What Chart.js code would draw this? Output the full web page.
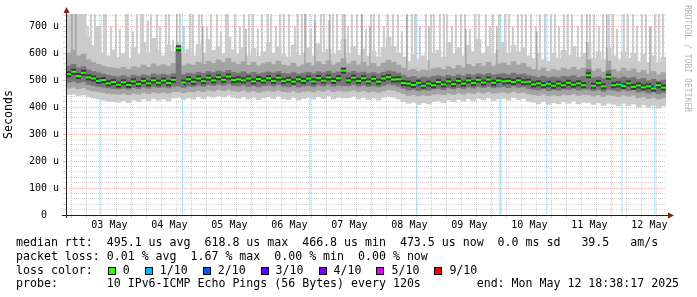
<!DOCTYPE html>
<html>
<head>
<meta charset="utf-8">
<title>smokeping</title>
<script src="https://cdn.jsdelivr.net/npm/chart.js@4.4.1/dist/chart.umd.min.js"></script>
<style>
  html, body { margin: 0; padding: 0; background: #fff; }
  #wrap { position: relative; width: 697px; height: 297px; overflow: hidden; font-family: 'DejaVu Sans Mono', monospace; }
  #chart { position: absolute; left: 0; top: 0; }
  .lg { position: absolute; left: 16px; font-size: 11.6px; line-height: 14px; white-space: pre; color: #000; }
  .box { display: inline-block; width: 6px; height: 6px; border: 1px solid #000; margin: 0 7px 0 15px; vertical-align: -1px; }
  .wm { position: absolute; left: 683px; top: 5px; writing-mode: vertical-rl; font-size: 8.1px; line-height: 9px; color: #b4b4b4; white-space: pre; }
</style>
</head>
<body>
<div id="wrap">
  <canvas id="chart" width="697" height="297"></canvas>
  <div class="wm">RRDTOOL / TOBI OETIKER</div>
  <div class="lg" style="top:235px">median rtt:  495.1 us avg  618.8 us max  466.8 us min  473.5 us now  0.0 ms sd   39.5   am/s</div>
  <div class="lg" style="top:249px">packet loss: 0.01 % avg  1.67 % max  0.00 % min  0.00 % now</div>
  <div class="lg" style="top:263px">loss color:<span class="box" style="background:#26ff00"></span>0<span class="box" style="background:#00b8ff"></span>1/10<span class="box" style="background:#0059ff"></span>2/10<span class="box" style="background:#5e00ff"></span>3/10<span class="box" style="background:#7e00ff"></span>4/10<span class="box" style="background:#dd00ff"></span>5/10<span class="box" style="background:#ff0000"></span>9/10</div>
  <div class="lg" style="top:276px">probe:       10 IPv6-ICMP Echo Pings (56 Bytes) every 120s        end: Mon May 12 18:38:17 2025</div>
</div>
<script>
// times are hours since 02 May 00:00, values in microseconds
const T0 = 18 + 38 / 60 + 17 / 3600;   // 02 May 18:38:17
const T1 = T0 + 240;                     // 12 May 18:38:17

// median rtt, one value per 2 h column
const med = [
  522, 531, 515, 527, 510, 506, 497, 500, 488, 493, 483, 492,
  482, 495, 486, 497, 488, 499, 490, 498, 489, 501, 618, 491,
  503, 494, 506, 496, 509, 499, 511, 501, 513, 500, 503, 499,
  506, 495, 504, 498, 507, 497, 509, 496, 501, 494, 503, 497,
  506, 495, 508, 498, 510, 497, 507, 535, 499, 509, 497, 507,
  495, 505, 494, 506, 511, 502, 503, 489, 487, 482, 490, 479,
  487, 481, 493, 484, 495, 485, 497, 487, 499, 489, 501, 491,
  502, 490, 499, 495, 497, 493, 499, 492, 494, 484, 488, 481,
  486, 479, 487, 481, 490, 483, 488, 481, 518, 479, 489, 477,
  512, 481, 484, 478, 488, 475, 480, 473, 477, 469, 481, 472
];

// smoke: outer (lightest), middle and inner bands
const lo1 = [
  446, 448, 442, 445, 438, 434, 430, 426, 422, 420, 418, 424,
  416, 426, 420, 430, 422, 432, 425, 430, 422, 434, 436, 428,
  434, 430, 438, 432, 440, 436, 442, 437, 444, 436, 432, 438,
  430, 436, 428, 434, 438, 432, 440, 430, 428, 436, 426, 432,
  436, 430, 438, 432, 442, 430, 436, 434, 434, 440, 430, 436,
  428, 434, 426, 436, 440, 436, 430, 420, 414, 418, 410, 416,
  412, 420, 424, 416, 426, 420, 428, 422, 430, 424, 432, 426,
  434, 424, 430, 432, 426, 436, 428, 432, 422, 418, 412, 420,
  410, 416, 412, 420, 414, 422, 412, 418, 416, 410, 416, 406,
  414, 410, 404, 414, 406, 412, 400, 408, 398, 406, 396, 404
];
const hi1 = [
  745, 745, 745, 745, 660, 628, 700, 600, 590, 612, 585, 598,
  580, 620, 595, 640, 600, 655, 610, 590, 630, 605, 640, 598,
  615, 590, 632, 600, 650, 610, 625, 598, 660, 612, 595, 620,
  590, 618, 588, 605, 640, 600, 625, 595, 585, 630, 592, 600,
  620, 590, 635, 602, 615, 595, 610, 650, 600, 625, 592, 615,
  590, 608, 586, 620, 660, 625, 600, 585, 570, 595, 575, 590,
  572, 600, 610, 585, 640, 598, 620, 590, 630, 605, 650, 600,
  625, 598, 612, 640, 600, 630, 605, 620, 590, 580, 598, 575,
  570, 600, 580, 610, 592, 625, 585, 600, 640, 580, 605, 575,
  620, 590, 575, 605, 580, 600, 570, 595, 566, 590, 565, 585
];
const lo2 = [
  470, 474, 468, 472, 464, 460, 456, 454, 451, 449, 447, 450,
  446, 452, 448, 454, 450, 456, 452, 455, 451, 457, 458, 453,
  458, 456, 461, 457, 463, 460, 465, 461, 466, 460, 458, 462,
  456, 460, 455, 459, 461, 458, 463, 457, 455, 460, 454, 458,
  460, 456, 462, 458, 464, 457, 461, 459, 459, 463, 457, 461,
  456, 459, 455, 460, 465, 462, 457, 450, 443, 446, 441, 445,
  442, 447, 449, 445, 451, 447, 452, 448, 454, 450, 456, 452,
  457, 451, 454, 456, 452, 458, 453, 455, 449, 446, 443, 448,
  441, 445, 442, 447, 445, 449, 443, 447, 446, 441, 445, 439,
  445, 443, 439, 445, 440, 444, 435, 439, 432, 436, 430, 434
];
const hi2 = [
  600, 612, 590, 596, 575, 565, 558, 552, 548, 545, 542, 548,
  540, 550, 546, 556, 548, 560, 552, 557, 550, 562, 625, 553,
  560, 555, 566, 558, 570, 562, 575, 566, 580, 565, 558, 568,
  555, 566, 553, 561, 566, 558, 570, 556, 552, 563, 550, 557,
  564, 553, 568, 558, 572, 556, 565, 580, 560, 570, 556, 566,
  552, 562, 550, 563, 574, 566, 556, 545, 535, 540, 532, 538,
  534, 542, 546, 539, 550, 542, 554, 546, 558, 550, 562, 552,
  566, 552, 560, 564, 554, 568, 556, 562, 548, 540, 536, 545,
  532, 540, 535, 545, 540, 548, 538, 545, 575, 534, 542, 530,
  570, 540, 532, 545, 534, 542, 528, 536, 522, 532, 520, 528
];
const lo3 = [
  492, 496, 490, 494, 484, 480, 476, 474, 471, 469, 467, 470,
  466, 472, 468, 474, 470, 476, 472, 475, 471, 477, 478, 473,
  478, 476, 481, 477, 483, 480, 485, 481, 486, 480, 478, 482,
  476, 480, 475, 479, 481, 478, 483, 477, 475, 480, 474, 478,
  480, 476, 482, 478, 484, 477, 481, 479, 479, 483, 477, 481,
  476, 479, 475, 480, 485, 482, 477, 470, 463, 466, 461, 465,
  462, 467, 469, 465, 471, 467, 472, 468, 474, 470, 476, 472,
  477, 471, 474, 476, 472, 478, 473, 475, 469, 466, 463, 468,
  461, 465, 462, 467, 465, 469, 463, 467, 466, 461, 465, 459,
  465, 463, 459, 465, 460, 464, 455, 459, 452, 456, 450, 454
];
const hi3 = [
  552, 558, 546, 550, 538, 532, 527, 522, 518, 515, 512, 516,
  511, 518, 514, 520, 516, 523, 519, 522, 518, 524, 620, 520,
  526, 523, 529, 525, 532, 528, 534, 530, 536, 529, 526, 531,
  524, 529, 523, 527, 530, 526, 532, 525, 523, 528, 522, 526,
  529, 524, 531, 527, 533, 526, 530, 545, 528, 532, 526, 530,
  524, 528, 523, 529, 534, 531, 526, 518, 510, 513, 507, 512,
  509, 514, 516, 512, 518, 514, 520, 516, 522, 518, 524, 520,
  525, 519, 522, 524, 520, 526, 521, 523, 517, 513, 510, 515,
  508, 512, 509, 514, 512, 516, 510, 514, 540, 508, 512, 506,
  535, 510, 506, 512, 507, 511, 502, 506, 498, 503, 496, 500
];

// single high pings (thin light smoke reaching up)
const spikeHours = [
  27.4, 28.6, 30.2, 31.4, 33.8, 34.6, 36.6, 38.6, 40.2, 42.6,
  43.4, 45.4, 47.0, 48.6, 49.4, 51.4, 52.6, 55.0, 56.2, 58.6,
  59.8, 61.4, 64.2, 65.8, 68.2, 69.4, 71.8, 73.0, 75.0, 76.6,
  79.0, 80.6, 82.6, 83.4, 86.2, 88.2, 89.8, 91.8, 93.4, 95.4,
  97.0, 99.4, 100.6, 102.6, 104.2, 105.8, 107.8, 110.2, 111.4, 113.0,
  114.6, 116.6, 118.2, 120.6, 121.8, 123.8, 125.4, 127.0, 129.4, 131.4,
  133.0, 135.0, 137.0, 138.6, 140.6, 141.8, 143.8, 145.8, 147.4, 149.4,
  151.4, 153.0, 155.0, 157.0, 158.2, 160.2, 162.6, 164.6, 165.8, 168.2,
  169.8, 171.0, 173.0, 174.6, 176.6, 178.2, 180.2, 182.2, 183.8, 186.6,
  188.2, 189.4, 191.8, 194.2, 195.8, 197.4, 199.4, 201.0, 202.6, 204.6,
  206.6, 208.2, 210.2, 212.6, 214.2, 215.8, 217.8, 219.4, 221.0, 223.4,
  225.0, 228.2, 229.8, 231.8, 233.4, 235.8, 237.4, 239.0, 241.8, 243.4,
  245.4, 247.0, 249.0, 250.6, 252.6, 254.2, 255.8, 257.4
];
const spikeTops = [
  700, 745, 745, 660, 745, 745, 700, 745, 690, 745,
  745, 680, 745, 745, 745, 720, 745, 745, 700, 745,
  745, 650, 745, 700, 745, 745, 745, 745, 700, 745,
  745, 680, 745, 745, 745, 700, 745, 745, 745, 690,
  745, 745, 745, 700, 745, 745, 745, 700, 745, 745,
  745, 690, 745, 745, 745, 720, 745, 745, 745, 700,
  745, 745, 745, 690, 745, 745, 745, 700, 745, 745,
  745, 680, 745, 745, 745, 700, 745, 745, 745, 745,
  745, 745, 700, 745, 745, 745, 690, 745, 745, 745,
  700, 745, 745, 745, 745, 700, 745, 745, 745, 745,
  700, 745, 745, 745, 745, 700, 745, 745, 745, 700,
  745, 745, 745, 700, 745, 745, 745, 690, 745, 745,
  745, 700, 745, 745, 700, 745, 745, 745
];
// columns where several pings were high (darker smoke up)
const darkSpikeHours = [21.0, 22.6, 63.0, 73.4, 90.6, 114.2, 118.2, 124.2, 130.2, 137.0,
                        140.2, 155.0, 163.8, 178.6, 191.0, 207.0, 227.0, 235.0, 252.2];
const darkSpikeTops  = [745, 745, 745, 700, 690, 745, 720, 745, 745, 745,
                        700, 745, 700, 690, 700, 680, 745, 745, 700];

// bins with 1/10 packet loss, and the median there
const lossHours = [32.2, 65.2, 116.2, 159.0, 192.2, 192.6, 211.0, 241.0, 254.2];
const lossMed   = [500, 482, 494, 485, 485, 485, 490, 482, 478];

const xTickHours = [];
for (let h = 24; h <= 258; h += 6) xTickHours.push(h);
const yTickValues = [];
for (let v = 0; v <= 740; v += 20) yTickValues.push(v);

const sampleHours = med.map((v, i) => T0 + 1 + 2 * i);
const band = (lo, hi) => sampleHours.map((h, i) => ({ x: h, y: [lo[i], hi[i]] }));
const dots = vals => sampleHours.map((h, i) => ({ x: h, y: vals[i] }));

const GRID = 'rgba(143,143,143,0.34)';
const MGRID = 'rgba(222,79,79,0.42)';

Chart.defaults.font.family = "'DejaVu Sans Mono', monospace";
Chart.defaults.color = '#000';

const axisArrows = {
  id: 'axisArrows',
  afterDraw(chart) {
    const { ctx, chartArea: a } = chart;
    const x0 = a.left + 0.5, y0 = a.bottom + 0.5;
    ctx.save();
    ctx.strokeStyle = '#1f1f1f';
    ctx.lineWidth = 1;
    ctx.beginPath();
    ctx.moveTo(a.left - 4, y0); ctx.lineTo(a.right + 3, y0);
    ctx.moveTo(x0, a.bottom + 3); ctx.lineTo(x0, a.top - 3);
    ctx.stroke();
    ctx.fillStyle = '#801f1f';
    ctx.beginPath();
    ctx.moveTo(a.right + 2, y0 - 3); ctx.lineTo(a.right + 8, y0); ctx.lineTo(a.right + 2, y0 + 3);
    ctx.fill();
    ctx.beginPath();
    ctx.moveTo(x0 - 3, a.top - 1); ctx.lineTo(x0, a.top - 7); ctx.lineTo(x0 + 3, a.top - 1);
    ctx.fill();
    ctx.restore();
  }
};

const barOpts = { type: 'bar', grouped: false, borderWidth: 0 };

new Chart(document.getElementById('chart'), {
  type: 'bar',
  data: {
    datasets: [
      { ...barOpts, order: 10, barThickness: 1, inflateAmount: 0, backgroundColor: 'rgba(0,184,255,0.38)',
        data: lossHours.map(h => ({ x: h, y: [0, 745] })) },
      { ...barOpts, order: 9, barThickness: 2, inflateAmount: 0, backgroundColor: '#cbcbcb',
        data: spikeHours.map((h, i) => ({ x: h, y: [500, spikeTops[i]] })) },
      { ...barOpts, order: 8, barThickness: 5, backgroundColor: '#cbcbcb', data: band(lo1, hi1) },
      { ...barOpts, order: 7, barThickness: 1, inflateAmount: 0, backgroundColor: '#909090',
        data: darkSpikeHours.map((h, i) => ({ x: h, y: [500, darkSpikeTops[i]] })) },
      { ...barOpts, order: 6, barThickness: 5, backgroundColor: '#a4a4a4', data: band(lo2, hi2) },
      { ...barOpts, order: 5, barThickness: 5, backgroundColor: '#767676', data: band(lo3, hi3) },
      { type: 'line', order: 4, data: dots(med), showLine: false, pointStyle: 'line',
        pointRadius: 2.5, pointBorderWidth: 6, pointBorderColor: '#3a3a3a' },
      { type: 'line', order: 3, data: dots(med), showLine: false, pointStyle: 'line',
        pointRadius: 2.5, pointBorderWidth: 2, pointBorderColor: '#26ff00' },
      { type: 'line', order: 2, showLine: false, pointStyle: 'rect', pointRadius: 1.5,
        pointBackgroundColor: '#00b8ff', pointBorderWidth: 0,
        data: lossHours.map((h, i) => ({ x: h, y: lossMed[i] })) }
    ]
  },
  options: {
    responsive: false,
    animation: false,
    events: [],
    layout: { padding: { left: 0, right: 31, top: 14, bottom: 0 } },
    plugins: { legend: { display: false }, tooltip: { enabled: false } },
    scales: {
      x: {
        type: 'linear', min: T0, max: T1, offset: false,
        afterFit: s => { s.height = 82; },
        afterBuildTicks: s => { s.ticks = xTickHours.map(v => ({ value: v })); },
        grid: {
          lineWidth: 1, tickLength: 3,
          color: c => (c.tick && c.tick.value % 24 === 0 ? MGRID : GRID),
          tickColor: c => (c.tick && c.tick.value % 24 === 0 ? MGRID : GRID)
        },
        border: { display: false, dash: [1, 1] },
        ticks: {
          autoSkip: false, maxRotation: 0, padding: 1,
          font: { size: 10 },
          callback: v => (v % 24 === 12 ? String(2 + Math.floor(v / 24)).padStart(2, '0') + ' May' : '')
        }
      },
      y: {
        min: 0, max: 745,
        afterFit: s => { s.width = 66; },
        afterBuildTicks: s => { s.ticks = yTickValues.map(v => ({ value: v })); },
        grid: {
          lineWidth: 1, tickLength: 3,
          color: c => (c.tick && c.tick.value % 100 === 0 ? MGRID : GRID),
          tickColor: c => (c.tick && c.tick.value % 100 === 0 ? MGRID : GRID)
        },
        border: { display: false, dash: [1, 1] },
        ticks: {
          autoSkip: false, padding: 4, font: { size: 10 },
          callback: v => (v % 100 === 0 ? (v === 0 ? '0  ' : v + ' u') : '')
        },
        title: { display: true, text: 'Seconds', font: { size: 11.6 }, padding: { top: 2.5, bottom: 0 } }
      }
    }
  },
  plugins: [axisArrows]
});
</script>
</body>
</html>
